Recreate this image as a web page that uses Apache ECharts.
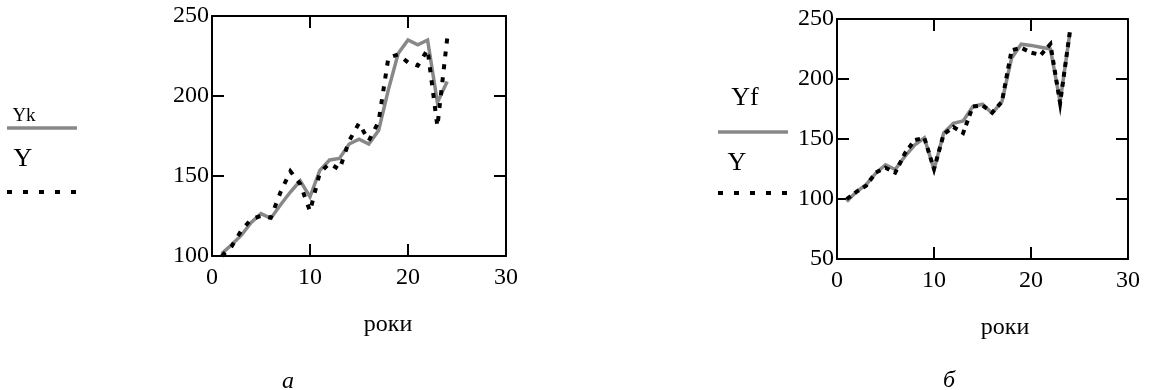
<!DOCTYPE html>
<html>
<head>
<meta charset="utf-8">
<script src="https://cdn.jsdelivr.net/npm/echarts@6/dist/echarts.min.js"></script>
<style>html,body{margin:0;padding:0;background:#fff}#c{width:1149px;height:390px}</style>
</head>
<body>
<div id="c"></div>
<script>
// ----- data -----
const years = [1,2,3,4,5,6,7,8,9,10,11,12,13,14,15,16,17,18,19,20,21,22,23,24];
// panel a
const yk = [101.5,107,113,121,126.5,123.5,132,140,147,137,153.5,160,161,170,173,170,178.5,204,226.5,235,232,235,196,209];
const yA = [100,106,116,123,125,124,140,153,145,128,152,158,154,172,183,172,184,224,226,221,219,229,181,236];
// panel б
const yf = [98,106,112,121.5,128.5,124.5,135.5,145,151,124.5,155,163,165,177,179,171.5,181,217.5,229,228,226.5,225,181,238];
const yB = [100,106,111,122,126,122,138,149,151,125,154,160,155,177,178,172,181,224,226,222,220,229,180,239];
const xTicks = {min:0, max:30, interval:10};
const yTicksA = {min:100, max:250, interval:50};
const yTicksB = {min:50, max:250, interval:50};
const xName = 'роки';
const panelNames = ['а','б'];

const FONT = '"Liberation Serif", "Times New Roman", serif';
const chart = echarts.init(document.getElementById('c'));

function pairs(ys){ return years.map((x,i)=>[x, ys[i]]); }

function xAx(grid, pos, show){
  return {type:'value', gridIndex:grid, position:pos, ...xTicks,
    axisLine:{show:true, onZero:false, lineStyle:{color:'#000', width:2}},
    axisTick:{show:true, inside:true, length:12, lineStyle:{color:'#000', width:2}},
    axisLabel:{show:show, color:'#000', fontFamily:FONT, fontSize:24, margin:10},
    splitLine:{show:false}};
}
function yAx(grid, pos, show, t){
  return {type:'value', gridIndex:grid, position:pos, ...t,
    axisLine:{show:true, onZero:false, lineStyle:{color:'#000', width:2}},
    axisTick:{show:true, inside:true, length:12, lineStyle:{color:'#000', width:2}},
    axisLabel:{show:show, color:'#000', fontFamily:FONT, fontSize:24, margin:3},
    splitLine:{show:false}};
}
function line(xi, yi, ys, color, width, dash){
  return {type:'line', xAxisIndex:xi, yAxisIndex:yi, data:pairs(ys), showSymbol:false, symbol:'none',
    animation:false, silent:true,
    lineStyle:{color:color, width:width, type:dash||'solid', cap:'butt', join:'miter'}};
}
function txt(x,y,s,size,italic){
  return {type:'text', x:x, y:y, silent:true,
    style:{text:s, fill:'#000', font:(italic?'italic ':'')+size+'px '+FONT, align:'center', verticalAlign:'middle'}};
}
function gline(x1,x2,y,color,w,dash){
  return {type:'line', silent:true, shape:{x1:x1,y1:y,x2:x2,y2:y},
    style:{stroke:color, lineWidth:w, lineDash:dash||null}};
}

chart.setOption({
  animation:false,
  grid:[
    {left:212, top:16, width:294, height:240},
    {left:837, top:19, width:291, height:240}
  ],
  xAxis:[xAx(0,'bottom',true), xAx(0,'top',false), xAx(1,'bottom',true), xAx(1,'top',false)],
  yAxis:[yAx(0,'left',true,yTicksA), yAx(0,'right',false,yTicksA), yAx(1,'left',true,yTicksB), yAx(1,'right',false,yTicksB)],
  series:[
    line(0,0,yk,'#888888',3.5),
    line(0,0,yA,'#000000',4,[5,8]),
    line(2,2,yf,'#888888',3.5),
    line(2,2,yB,'#000000',4,[5,5])
  ],
  graphic:[
    txt(24,116,'Yk',19), gline(7,77,128,'#888888',3.5),
    txt(23,159,'Y',26), gline(7,77,192,'#000000',4,[5,11]),
    txt(745,98,'Yf',26), gline(718,788,132,'#888888',3.5),
    txt(737,163,'Y',26), gline(718,788,193,'#000000',4,[5,11]),
    txt(388,325,xName,24), txt(1005,328,xName,24),
    txt(288,382,panelNames[0],24,true), txt(949,381,panelNames[1],24,true)
  ]
});
</script>
</body>
</html>
